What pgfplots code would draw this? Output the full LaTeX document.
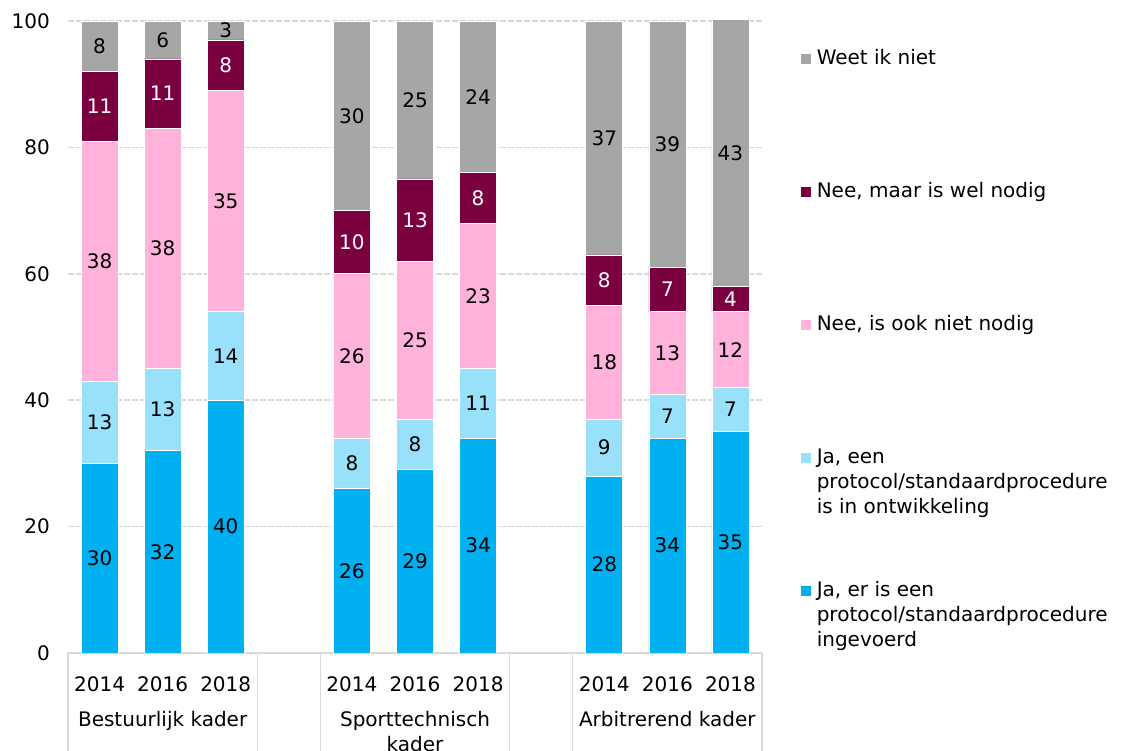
\documentclass[border=0pt]{standalone}
\usepackage{fontspec}
\setmainfont{DejaVu Sans}
\usepackage{pgfplots}
\usepackage{pgfplotstable}
\pgfplotsset{compat=1.18}
\definecolor{cA}{HTML}{00B0F0}
\definecolor{cB}{HTML}{99E1FB}
\definecolor{cC}{HTML}{FFB3DA}
\definecolor{cD}{HTML}{7A003F}
\definecolor{cE}{HTML}{A6A6A6}
\definecolor{gridc}{HTML}{D9D9D9}
\pgfplotstableread{
x A B C D E
0 30 13 38 11 8
1 32 13 38 11 6
2 40 14 35 8 3
4 26 8 26 10 30
5 29 8 25 13 25
6 34 11 23 8 24
8 28 9 18 8 37
9 34 7 13 7 39
10 35 7 12 4 43
}\data
\newcommand{\lent}[1]{\parbox[t][133bp][t]{300bp}{\raggedright #1}}
\begin{document}
\fontsize{20bp}{25bp}\selectfont
\begin{tikzpicture}[font=\fontsize{20bp}{25bp}\selectfont]
\useasboundingbox (0,0) rectangle (1124bp,751bp);
\pgfplotsset{common/.style={
  scale only axis, width=694bp, height=632bp,
  at={(68bp,98bp)}, anchor=south west,
  xmin=-0.5, xmax=10.5, ymin=0, ymax=100,
  /pgf/number format/assume math mode=true,
}}
\begin{axis}[common, ybar stacked, bar width=37bp,
  axis x line*=bottom, axis y line*=left,
  y axis line style={draw=none},
  x axis line style={gridc, line width=1.5bp},
  major tick length=0pt,
  ytick={0,20,...,100}, ymajorgrids,
  grid style={gridc, line width=1.6bp, dash pattern=on 5.5bp off 2.5bp},
  xtick={0,1,2,4,5,6,8,9,10},
  xticklabels={2014,2016,2018,2014,2016,2018,2014,2016,2018},
  yticklabel style={anchor=east, inner sep=0pt, xshift=-18bp},
  xticklabel style={anchor=north, inner sep=0pt, yshift=-23bp},
  reverse legend,
  legend cell align=left,
  legend style={at={(1.055,0.955)}, anchor=north west, draw=none, fill=none,
    inner sep=0pt, outer sep=0pt, row sep=0pt, column sep=5bp,
    cells={anchor=base west}, nodes={inner sep=0pt, text depth=}},
  legend image code/.code={\fill[#1] (0bp,0bp) rectangle (11bp,11bp);},
]
\addplot[fill=cA, draw=white, line width=0.6bp] table[x=x,y=A]{\data};
\addlegendentry{\lent{Ja, er is een\\protocol/standaardprocedure\\ingevoerd}}
\addplot[fill=cB, draw=white, line width=0.6bp] table[x=x,y=B]{\data};
\addlegendentry{\lent{Ja, een\\protocol/standaardprocedure\\is in ontwikkeling}}
\addplot[fill=cC, draw=white, line width=0.6bp] table[x=x,y=C]{\data};
\addlegendentry{\lent{Nee, is ook niet nodig}}
\addplot[fill=cD, draw=white, line width=0.6bp] table[x=x,y=D]{\data};
\addlegendentry{\lent{Nee, maar is wel nodig}}
\addplot[fill=cE, draw=white, line width=0.6bp] table[x=x,y=E]{\data};
\addlegendentry{\lent{Weet ik niet}}
\end{axis}
\begin{axis}[common, hide axis, clip=false,
  nodes near coords,
  every node near coord/.append style={anchor=center, font=\fontsize{20bp}{25bp}\selectfont},
]
\addplot[only marks, mark=none, nodes near coords, point meta=\thisrow{A}] table[x=x, y expr=\thisrow{A}/2]{\data};
\addplot[only marks, mark=none, nodes near coords, point meta=\thisrow{B}] table[x=x, y expr=\thisrow{A}+\thisrow{B}/2]{\data};
\addplot[only marks, mark=none, nodes near coords, point meta=\thisrow{C}] table[x=x, y expr=\thisrow{A}+\thisrow{B}+\thisrow{C}/2]{\data};
\addplot[only marks, mark=none, nodes near coords, point meta=\thisrow{D}, every node near coord/.append style={text=white}] table[x=x, y expr=\thisrow{A}+\thisrow{B}+\thisrow{C}+\thisrow{D}/2]{\data};
\addplot[only marks, mark=none, nodes near coords, point meta=\thisrow{E}] table[x=x, y expr=(\thisrow{A}+\thisrow{B}+\thisrow{C}+\thisrow{D}+100)/2]{\data};
\draw[gridc, line width=1.5bp] (axis cs:-0.5,0) -- ++(0bp,-98bp);
\draw[gridc, line width=1.5bp] (axis cs:2.5,0) -- ++(0bp,-98bp);
\draw[gridc, line width=1.5bp] (axis cs:3.5,0) -- ++(0bp,-98bp);
\draw[gridc, line width=1.5bp] (axis cs:6.5,0) -- ++(0bp,-98bp);
\draw[gridc, line width=1.5bp] (axis cs:7.5,0) -- ++(0bp,-98bp);
\draw[gridc, line width=1.5bp] (axis cs:10.5,0) -- ++(0bp,-98bp);
\node[anchor=north, inner sep=0pt] at ([yshift=-58bp]axis cs:1,0) {Bestuurlijk kader};
\node[anchor=north, inner sep=0pt, align=center] at ([yshift=-58bp]axis cs:5,0) {Sporttechnisch\\kader};
\node[anchor=north, inner sep=0pt] at ([yshift=-58bp]axis cs:9,0) {Arbitrerend kader};
\end{axis}
\end{tikzpicture}
\end{document}
